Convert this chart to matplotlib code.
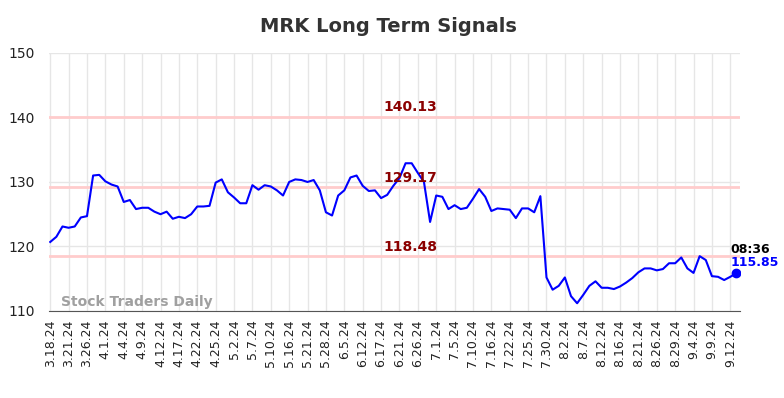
import matplotlib
matplotlib.use("Agg")
import matplotlib.pyplot as plt
import numpy as np

# closing prices, one per trading day shown
prices = [120.7, 121.5, 123.1, 122.9, 123.1, 124.5, 124.7, 131.0, 131.1, 130.1,
          129.6, 129.3, 126.9, 127.2, 125.8, 126.0, 126.0, 125.4, 125.0, 125.4,
          124.3, 124.6, 124.4, 125.0, 126.2, 126.2, 126.3, 129.9, 130.4, 128.4,
          127.6, 126.7, 126.7, 129.5, 128.8, 129.5, 129.3, 128.7, 127.9, 130.0,
          130.4, 130.3, 130.0, 130.3, 128.7, 125.3, 124.8, 127.9, 128.7, 130.7,
          131.0, 129.4, 128.6, 128.7, 127.5, 128.0, 129.4, 130.6, 132.9, 132.9,
          131.4, 130.0, 123.8, 127.9, 127.7, 125.8, 126.4, 125.8, 126.0, 127.4,
          128.9, 127.7, 125.5, 125.9, 125.8, 125.7, 124.4, 125.9, 125.9, 125.3,
          127.8, 115.2, 113.3, 113.9, 115.2, 112.3, 111.2, 112.5, 113.9, 114.6,
          113.6, 113.6, 113.4, 113.8, 114.4, 115.1, 116.0, 116.6, 116.6, 116.3,
          116.5, 117.4, 117.4, 118.3, 116.6, 115.9, 118.5, 117.9, 115.4, 115.3,
          114.8, 115.3, 115.85]

tick_labels = ["3.18.24", "3.21.24", "3.26.24", "4.1.24", "4.4.24", "4.9.24",
               "4.12.24", "4.17.24", "4.22.24", "4.25.24", "5.2.24", "5.7.24",
               "5.10.24", "5.16.24", "5.21.24", "5.28.24", "6.5.24", "6.12.24",
               "6.17.24", "6.21.24", "6.26.24", "7.1.24", "7.5.24", "7.10.24",
               "7.16.24", "7.22.24", "7.25.24", "7.30.24", "8.2.24", "8.7.24",
               "8.12.24", "8.16.24", "8.21.24", "8.26.24", "8.29.24", "9.4.24",
               "9.9.24", "9.12.24"]

signal_levels = [140.13, 129.17, 118.48]
last_time = "08:36"

x = np.arange(len(prices))
ticks = np.arange(len(tick_labels)) * 3

fig = plt.figure(figsize=(7.84, 3.98), dpi=100)
ax = fig.add_axes([0.0625, 0.2186, 0.8815, 0.6484])

for lvl in signal_levels:
    ax.axhline(lvl, color="#ffcccc", linewidth=2, zorder=1)
    ax.text(58.8, lvl + 0.35, f"{lvl:.2f}", color="#8b0000", fontsize=10,
            fontweight="bold", ha="center", va="bottom", zorder=4)

ax.plot(x, prices, color="blue", linewidth=1.5, zorder=3)
ax.plot(x[-1], prices[-1], "o", color="blue", markersize=6, zorder=5)

ax.text(x[-1] - 1, prices[-1] + 3.7, last_time, color="black", fontsize=9,
        fontweight="bold", ha="left", va="center")
ax.text(x[-1] - 1, prices[-1] + 1.6, f"{prices[-1]:.2f}", color="blue",
        fontsize=9, fontweight="bold", ha="left", va="center")

ax.text(0.018, 0.008, "Stock Traders Daily", transform=ax.transAxes,
        color="#a0a0a0", fontsize=10, fontweight="bold", ha="left", va="bottom")

ax.set_xlim(-0.2, 112.6)
ax.set_ylim(110, 150)
ax.set_yticks([110, 120, 130, 140, 150])
ax.set_xticks(ticks)
ax.set_xticklabels(tick_labels, rotation=90, fontsize=9, color="#222222")
ax.tick_params(axis="y", labelsize=10, colors="#222222", length=0, pad=10)
ax.tick_params(axis="x", length=0, pad=6)
ax.grid(True, color="#e6e6e6", linewidth=1)
ax.set_axisbelow(True)
for s in ["top", "right", "left"]:
    ax.spines[s].set_visible(False)
ax.spines["bottom"].set_color("#555555")

fig.suptitle("MRK Long Term Signals", x=0.495, y=0.958, fontsize=14,
             fontweight="bold", color="#333333")

plt.savefig("out.png", dpi=100)
